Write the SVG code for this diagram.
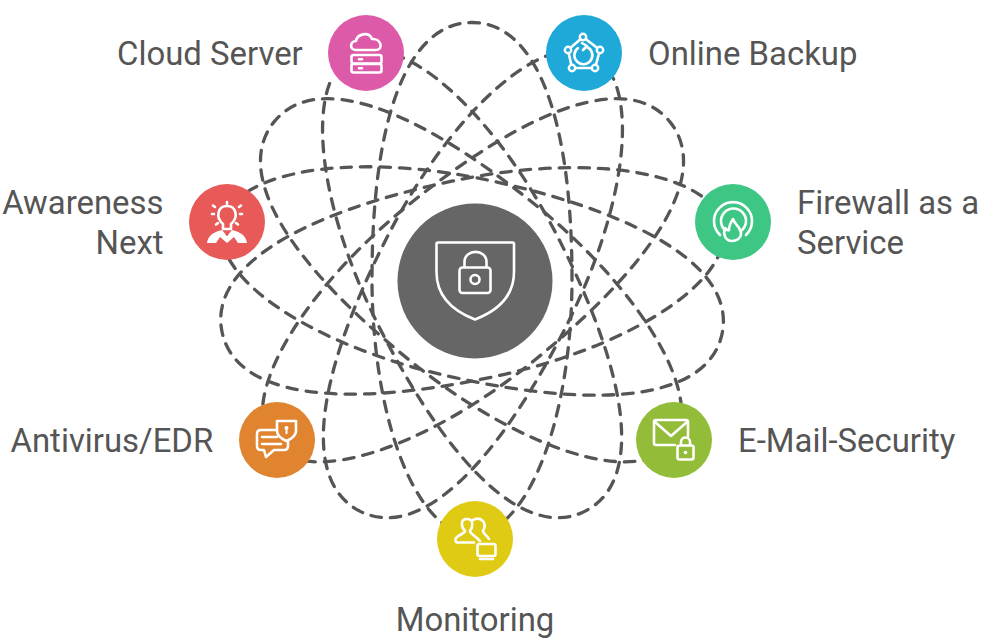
<svg xmlns="http://www.w3.org/2000/svg" width="990" height="644" viewBox="0 0 990 644">
<style>
.l{font-family:Roboto,"Liberation Sans",sans-serif;font-size:32.9px;fill:#555}
.c{fill:none;stroke:#555;stroke-width:3.3;stroke-linecap:round;stroke-dasharray:10.500 9;stroke-dashoffset:9}
.i{fill:none;stroke:#fff;stroke-width:2.6;stroke-linejoin:round;stroke-linecap:round}
</style>
<defs>
<path id="loop" d="M-245 -29A256 100 0 0 1 0 -100C162 -100 256 -64 256 0C256 64 162 100 0 100A256 100 0 0 1 -245 29"/>
</defs>
<rect width="990" height="644" fill="#fff"/>
<g id="connectors">
<use class="c" href="#loop" transform="translate(472 278.500) rotate(-90)"/>
<use class="c" href="#loop" transform="translate(469 283) rotate(63)"/>
<use class="c" href="#loop" transform="translate(476 283) rotate(117)"/>
<use class="c" href="#loop" transform="translate(472.500 279) rotate(168)"/>
<use class="c" href="#loop" transform="translate(472 279) rotate(12.500)"/>
<use class="c" href="#loop" transform="translate(473 283) rotate(-141)"/>
<use class="c" href="#loop" transform="translate(471 283) rotate(-39)"/>
</g>
<g id="center"><circle cx="475" cy="281" r="77.500" fill="#666"/>
<path class="i" d="M438 242.500H512.500Q514 242.500 514 244V272C514 296 497 311 475 319.500C453 311 436.500 296 436.500 272V244Q436.500 242.500 438 242.500Z"/>
<rect class="i" x="459.500" y="267.500" width="31" height="25.500" rx="3"/>
<path class="i" d="M464.500 267V262C464.500 248.500 486.500 248.500 486.500 262V267"/>
<circle class="i" cx="475" cy="279.500" r="4.500"/></g>
<g id="cloud-server"><circle cx="366" cy="53" r="38" fill="#dd5aa9"/>
<path class="i" d="M356 50C349 50 350 41 356 41C357 34 369 31 372 39C381 38 384 50 376 50Z"/>
<rect class="i" x="351.500" y="55" width="30" height="8.500" rx="2"/><rect class="i" x="351.500" y="64" width="30" height="8.500" rx="2"/>
<path class="i" d="M359 59.300h3M359 68.300h3"/>
<text class="l" x="117" y="64.500">Cloud Server</text></g>
<g id="online-backup"><circle cx="584" cy="53" r="38" fill="#1fa9d9"/>
<path class="i" d="M583 37L600 50L595 68H572L568 50Z"/>
<circle cx="583" cy="37" r="3.200" fill="#1fa9d9" stroke="#fff" stroke-width="2.400"/><circle cx="600" cy="50" r="3.200" fill="#1fa9d9" stroke="#fff" stroke-width="2.400"/><circle cx="595" cy="68" r="3.200" fill="#1fa9d9" stroke="#fff" stroke-width="2.400"/><circle cx="572" cy="68" r="3.200" fill="#1fa9d9" stroke="#fff" stroke-width="2.400"/><circle cx="568" cy="50" r="3.200" fill="#1fa9d9" stroke="#fff" stroke-width="2.400"/>
<path class="i" d="M578 48A9 9 0 1 0 587 47M583 50L587 46L582 43"/>
<text class="l" x="648" y="64.500">Online Backup</text></g>
<g id="firewall"><circle cx="733" cy="222" r="38" fill="#3ec685"/>
<path class="i" d="M720 235A19 19 0 1 1 746 235M726 231A12.500 12.500 0 1 1 741 231"/>
<path d="M732 241C725 241 723 234 725 228C727 230 728 231 729 230C729 225 731 222 733 219C735 225 741 227 741 234C741 238 737 241 732 241Z" fill="#3ec685" stroke="#fff" stroke-width="2.600" stroke-linejoin="round"/>
<text class="l" x="797" y="213.500">Firewall as a</text><text class="l" x="797" y="253.500">Service</text></g>
<g id="awareness"><circle cx="227" cy="222" r="38" fill="#e75a57"/>
<path class="i" stroke-width="3.200" d="M227 204v-2M215 207l-2 -1.500M239 207l2 -1.500M214 214h-2M240 214h2M236 223l2 1.500M218 223l-2 1.500"/>
<path class="i" stroke-width="3" d="M223 224C215 217 218 206 227 206C236 206 239 217 231 224V229H223Z"/>
<path d="M207 243C208 235 214 232 222 230L227 236L232 230C240 232 246 235 247 243H238L234 237L227 243L220 237L216 243Z" fill="#fff"/>
<circle cx="227" cy="234.500" r="1.300" fill="#e75a57"/>
<text class="l" x="163.500" y="213.500" text-anchor="end">Awareness</text><text class="l" x="163.500" y="253.500" text-anchor="end">Next</text></g>
<g id="antivirus"><circle cx="277" cy="440" r="38" fill="#e08430"/>
<path class="i" d="M278 430H261Q257 430 257 434V446Q257 450 261 450H264L266 457L274 450H284Q288 450 288 446V440"/>
<path class="i" d="M262 437H277M262 444H281"/>
<path d="M277 421H296V431C296 436 291 439 286.500 441C282 439 277 436 277 431Z" fill="#e08430" stroke="#fff" stroke-width="2.600" stroke-linejoin="round"/>
<circle cx="286.500" cy="428" r="2" fill="#fff"/><path d="M285.500 429h2v5h-2z" fill="#fff"/>
<text class="l" x="10.500" y="451.500">Antivirus/EDR</text></g>
<g id="email"><circle cx="674" cy="440" r="38" fill="#93bc38"/>
<path class="i" d="M675 445H656Q654 445 654 443V422Q654 420 656 420H686Q688 420 688 422V436M655 422L671 436L687 422"/>
<rect x="677.500" y="445.500" width="16" height="14" rx="2" fill="#93bc38" stroke="#fff" stroke-width="2.600"/>
<path class="i" d="M681 445V442C681 436 690 436 690 442V445"/>
<circle cx="685.500" cy="452.500" r="1.800" fill="#fff"/>
<text class="l" x="738" y="451.500">E-Mail-Security</text></g>
<g id="monitoring"><circle cx="475" cy="539" r="38" fill="#e0cb14"/>
<path class="i" d="M474 542.500H458C455 542.500 455 539 456 538C459 534 465 534 465 531C461 527 460 519 467 519C474 519 473 527 470 531C470 534 476 536 480 541"/>
<path class="i" d="M473 520C480 516 488 522 483 531C483 534 487 535 489 539"/>
<rect x="477.500" y="544" width="18" height="12" rx="2" fill="#e0cb14" stroke="#fff" stroke-width="2.600"/>
<path class="i" d="M480 559H493"/>
<text class="l" x="475" y="630.500" text-anchor="middle">Monitoring</text></g>
</svg>
